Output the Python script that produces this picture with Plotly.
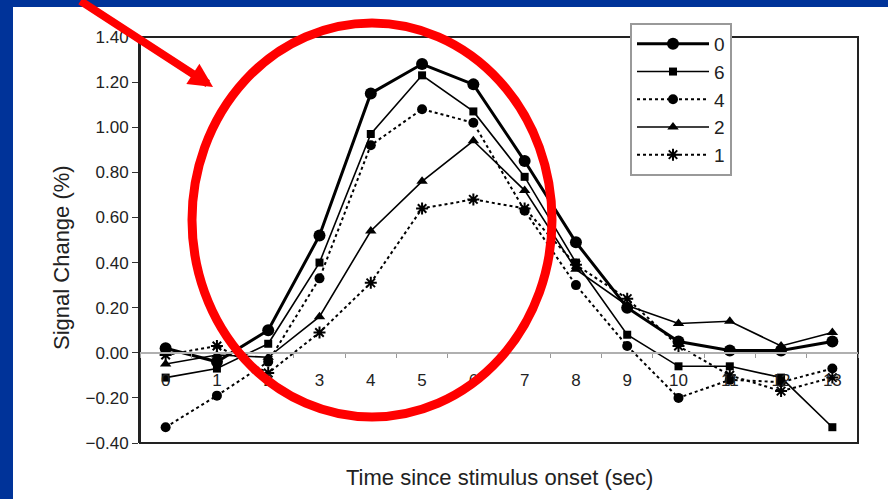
import plotly.graph_objects as go

# ---- data ----
time_labels = ["0", "1", "2", "3", "4", "5", "6", "7", "8", "9", "10", "11", "12", "13"]
series_names = ["0", "6", "4", "2", "1"]
s0 = [0.02, -0.04, 0.10, 0.52, 1.15, 1.28, 1.19, 0.85, 0.49, 0.20, 0.05, 0.01, 0.01, 0.05]
s6 = [-0.11, -0.07, 0.04, 0.40, 0.97, 1.23, 1.07, 0.78, 0.40, 0.08, -0.06, -0.06, -0.11, -0.33]
s4 = [-0.33, -0.19, -0.04, 0.33, 0.92, 1.08, 1.02, 0.63, 0.30, 0.03, -0.20, -0.12, -0.13, -0.07]
s2 = [-0.05, -0.01, -0.02, 0.16, 0.54, 0.76, 0.94, 0.72, 0.37, 0.21, 0.13, 0.14, 0.03, 0.09]
s1 = [-0.01, 0.03, -0.09, 0.09, 0.31, 0.64, 0.68, 0.64, 0.39, 0.24, 0.03, -0.10, -0.17, -0.11]
y_tickvals = [-0.4, -0.2, 0.0, 0.2, 0.4, 0.6, 0.8, 1.0, 1.2, 1.4]

FONT = "Liberation Sans, Arial, sans-serif"
BLUE = "#003399"

styles = [
    dict(lw=3, dash="solid", sym="circle", size=12),
    dict(lw=1.6, dash="solid", sym="square", size=8),
    dict(lw=2, dash="dot", sym="circle", size=10),
    dict(lw=1.6, dash="solid", sym="triangle-up", size=10),
    dict(lw=2, dash="dot", sym="asterisk-open", size=10),
]
values = [s0, s6, s4, s2, s1]

fig = go.Figure()
for name, vals, st in zip(series_names, values, styles):
    marker = dict(symbol=st["sym"], size=st["size"], color="black")
    if st["sym"] == "asterisk-open":
        marker["line"] = dict(color="black", width=2)
    fig.add_trace(go.Scatter(
        x=time_labels, y=vals, name=name, mode="lines+markers",
        line=dict(color="black", width=st["lw"], dash=st["dash"]),
        marker=marker,
    ))

def px_x(p):
    return (p - 140) / 718

def px_y(p):
    return (443 - p) / 406

fig.update_layout(
    width=888, height=499,
    margin=dict(l=140, r=30, t=37, b=56),
    paper_bgcolor="white", plot_bgcolor="white",
    font=dict(family=FONT, color="#222"),
    showlegend=True,
    legend=dict(
        x=px_x(630), y=px_y(23), xanchor="left", yanchor="top",
        bgcolor="white", bordercolor="#999", borderwidth=2,
        font=dict(size=19, family=FONT, color="#222"),
        itemwidth=72,
        tracegroupgap=0,
    ),
    xaxis=dict(
        type="category", range=[-0.5, 13.5],
        anchor="free", position=(0 - (-0.4)) / 1.8,
        showline=True, linecolor="#b0b0b0", linewidth=2,
        tickson="boundaries", ticks="outside", ticklen=4, tickcolor="#999", tickwidth=1,
        tickfont=dict(size=17, family=FONT, color="#222"),
        ticklabelstandoff=12,
        showgrid=False, zeroline=False,
    ),
    yaxis=dict(
        range=[-0.4, 1.4], tickvals=y_tickvals, tickformat=".2f",
        ticks="outside", ticklen=6, tickcolor="#333", tickwidth=1,
        showline=True, linecolor="#222", linewidth=2,
        tickfont=dict(size=17, family=FONT, color="#222"),
        showgrid=False, zeroline=False,
    ),
)

shapes = [
    # plot frame
    dict(type="rect", xref="paper", yref="paper", x0=0, x1=1, y0=0, y1=1,
         line=dict(color="#222", width=2), layer="below"),
    # blue slide border: top band and left band
    dict(type="rect", xref="paper", yref="paper", x0=px_x(-20), x1=px_x(910),
         y0=px_y(7), y1=px_y(-20), fillcolor=BLUE, line=dict(width=0), layer="above"),
    dict(type="rect", xref="paper", yref="paper", x0=px_x(-20), x1=px_x(13),
         y0=px_y(520), y1=px_y(-20), fillcolor=BLUE, line=dict(width=0), layer="above"),
    # red highlight ellipse
    dict(type="circle", xref="paper", yref="paper", x0=px_x(192), x1=px_x(552),
         y0=px_y(417), y1=px_y(23), line=dict(color="#ff0000", width=9), layer="above"),
]
fig.update_layout(shapes=shapes)

fig.add_annotation(x=px_x(499), y=px_y(477), xref="paper", yref="paper",
                   xanchor="center", yanchor="middle",
                   text="Time since stimulus onset (sec)", showarrow=False,
                   font=dict(size=22, family=FONT, color="#222"))
fig.add_annotation(x=px_x(61), y=px_y(258), xref="paper", yref="paper",
                   xanchor="center", yanchor="middle",
                   text="Signal Change (%)", showarrow=False, textangle=-90,
                   font=dict(size=22, family=FONT, color="#222"))
# red arrow
fig.add_annotation(x=px_x(213), y=px_y(87), xref="paper", yref="paper",
                   text="", showarrow=True, ax=-134, ay=-97,
                   arrowcolor="#ff0000", arrowwidth=8, arrowhead=2, arrowsize=0.6,
                   standoff=0)

fig.write_html("out.html", config={"displayModeBar": False},
               post_script="document.body.style.margin='0';")
